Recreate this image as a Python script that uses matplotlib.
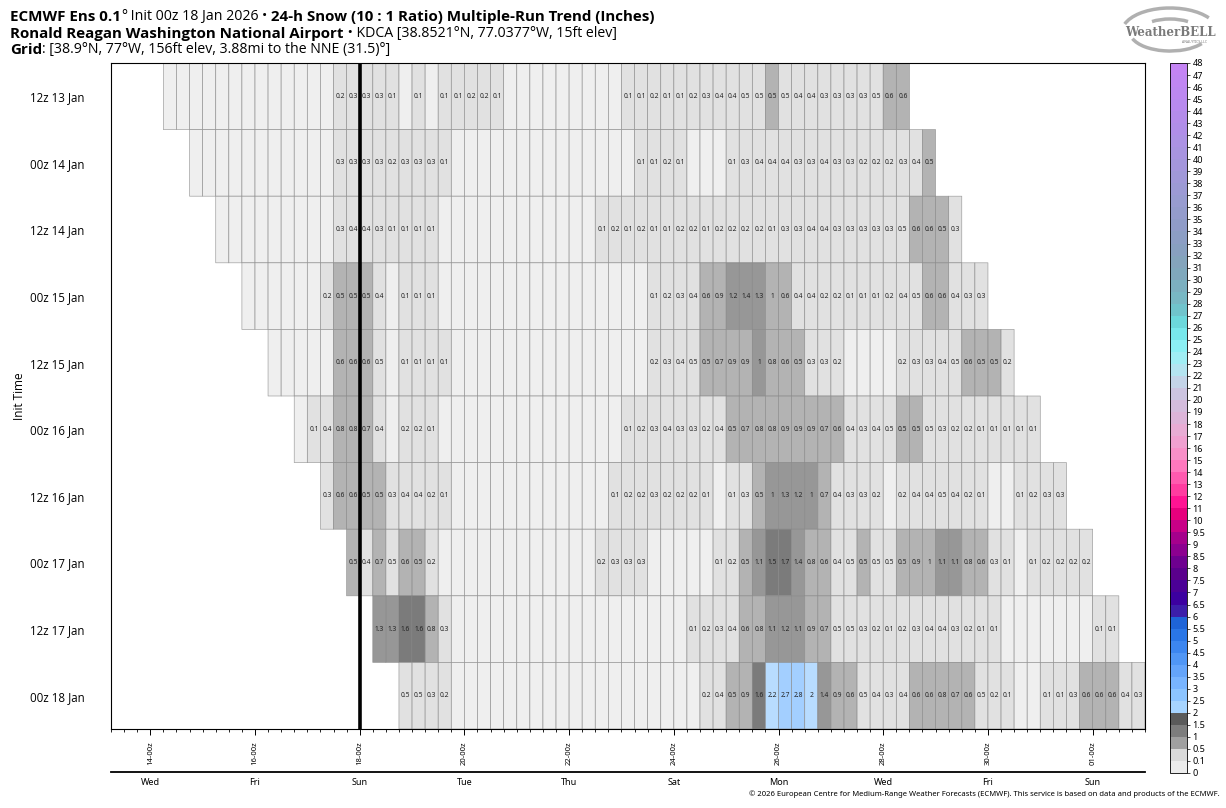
import numpy as np
import matplotlib
matplotlib.use('Agg')
import matplotlib.pyplot as plt
from matplotlib.colors import ListedColormap, BoundaryNorm
from matplotlib.patches import Arc
from matplotlib import font_manager
import matplotlib as mpl

plt.rcParams['font.family'] = ['Noto Sans', 'DejaVu Sans']

# runs, oldest first; each run is 6-hourly 24-h snow from +24h to +360h
init_labels = ['12z 13 Jan', '00z 14 Jan', '12z 14 Jan', '00z 15 Jan', '12z 15 Jan',
               '00z 16 Jan', '12z 16 Jan', '00z 17 Jan', '12z 17 Jan', '00z 18 Jan']

run_12z13 = [0] * 13 + [0.2, 0.3, 0.3, 0.3, 0.1, 0, 0.1, 0, 0.1, 0.1, 0.2, 0.2, 0.1] + [0] * 9 + \
    [0.1, 0.1, 0.2, 0.1, 0.1, 0.2, 0.3, 0.4, 0.4, 0.47, 0.47, 0.5, 0.47, 0.4, 0.4, 0.3, 0.3,
     0.3, 0.3, 0.47, 0.6, 0.6]
run_00z14 = [0] * 11 + [0.3, 0.3, 0.3, 0.3, 0.2, 0.3, 0.3, 0.3, 0.1] + [0] * 14 + \
    [0.1, 0.1, 0.2, 0.1] + [0] * 3 + \
    [0.1, 0.3, 0.4, 0.4, 0.4, 0.3, 0.3, 0.4, 0.3, 0.3, 0.2, 0.2, 0.2, 0.3, 0.4, 0.5]
run_12z14 = [0] * 9 + [0.3, 0.4, 0.4, 0.3, 0.1, 0.1, 0.1, 0.1] + [0] * 12 + \
    [0.1, 0.2, 0.1, 0.2, 0.1, 0.1, 0.2, 0.2, 0.1] + \
    [0.2, 0.2, 0.2, 0.2, 0.1, 0.3, 0.3, 0.4, 0.4, 0.3, 0.3, 0.3, 0.3, 0.3, 0.47, 0.6, 0.6, 0.5, 0.3]
run_00z15 = [0] * 6 + [0.2, 0.5, 0.5, 0.5, 0.4, 0, 0.1, 0.1, 0.1] + [0] * 16 + \
    [0.1, 0.2, 0.3, 0.4, 0.6, 0.9, 1.2, 1.4, 1.3, 0.96, 0.6, 0.4, 0.4, 0.2, 0.2, 0.1, 0.1, 0.1,
     0.2, 0.4, 0.47, 0.6, 0.6, 0.4, 0.3, 0.3]
run_12z15 = [0] * 5 + [0.6, 0.6, 0.6, 0.47, 0, 0.1, 0.1, 0.1, 0.1] + [0] * 15 + \
    [0.2, 0.3, 0.4, 0.47, 0.5, 0.7, 0.9, 0.9, 1.0, 0.8, 0.6, 0.5, 0.3, 0.3, 0.2] + [0] * 4 + \
    [0.2, 0.3, 0.3, 0.4, 0.47, 0.6, 0.5, 0.5, 0.2]
run_00z16 = [0, 0.1, 0.4, 0.8, 0.8, 0.7, 0.4, 0, 0.2, 0.2, 0.1] + [0] * 14 + \
    [0.1, 0.2, 0.3, 0.4, 0.3, 0.3, 0.2, 0.4, 0.5, 0.7, 0.8, 0.8, 0.9, 0.9, 0.9, 0.7, 0.6, 0.4,
     0.3, 0.4, 0.47, 0.5, 0.5, 0.47, 0.3, 0.2, 0.2, 0.1, 0.1, 0.1, 0.1, 0.1]
run_12z16 = [0.3, 0.6, 0.6, 0.5, 0.5, 0.3, 0.4, 0.4, 0.2, 0.1] + [0] * 12 + \
    [0.1, 0.2, 0.2, 0.3, 0.2, 0.2, 0.2, 0.1, 0,
     0.1, 0.3, 0.5, 1.0, 1.3, 1.2, 1.0, 0.7, 0.4, 0.3, 0.3, 0.2, 0,
     0.2, 0.4, 0.4, 0.47, 0.4, 0.2, 0.1, 0, 0, 0.1, 0.2, 0.3, 0.3]
run_00z17 = [0.5, 0.4, 0.7, 0.47, 0.6, 0.5, 0.2] + [0] * 12 + [0.2, 0.3, 0.3, 0.3] + [0] * 5 + \
    [0.1, 0.2, 0.5, 1.1, 1.5, 1.7, 1.4, 0.8, 0.6, 0.4, 0.47, 0.5, 0.47, 0.47, 0.5, 0.9, 0.96,
     1.1, 1.1, 0.8, 0.6, 0.3, 0.1, 0, 0.1, 0.2, 0.2, 0.2, 0.2]
run_12z17 = [1.3, 1.3, 1.6, 1.6, 0.8, 0.3] + [0] * 18 + \
    [0.1, 0.2, 0.3, 0.4, 0.6, 0.8, 1.1, 1.2, 1.1, 0.9, 0.7, 0.47, 0.47, 0.3, 0.2, 0.1, 0.2, 0.3,
     0.4, 0.4, 0.3, 0.2, 0.1, 0.1] + [0] * 7 + [0.1, 0.1]
run_00z18 = [0.47, 0.47, 0.3, 0.2] + [0] * 19 + \
    [0.2, 0.4, 0.5, 0.9, 1.6, 2.2, 2.7, 2.8, 2.0, 1.4, 0.9, 0.6, 0.47, 0.4, 0.3, 0.4, 0.6, 0.6,
     0.8, 0.7, 0.6, 0.47, 0.2, 0.1, 0, 0, 0.1, 0.1, 0.3, 0.6, 0.6, 0.6, 0.4, 0.3]

runs = [run_12z13, run_00z14, run_12z14, run_00z15, run_12z15,
        run_00z16, run_12z16, run_00z17, run_12z17, run_00z18]

tick_labels = ['14-00z', '16-00z', '18-00z', '20-00z', '22-00z', '24-00z',
               '26-00z', '28-00z', '30-00z', '01-00z']
day_labels = ['Wed', 'Fri', 'Sun', 'Tue', 'Thu', 'Sat', 'Mon', 'Wed', 'Fri', 'Sun']

levels = [0, 0.1] + [0.5 * i for i in range(1, 21)] + list(range(11, 49))
level_colors = [
    '#ececec', '#dadada', '#a0a0a0', '#7d7d7d', '#5a5a5a',
    '#a6d4ff', '#8cc4ff', '#78b4ff', '#64a4fa', '#5096f5', '#3c86f0', '#2a76e6', '#1e64d8',
    '#3c1eaa', '#3c00a0', '#4b0096', '#5a008c', '#6e0090', '#8c0090', '#a5008c', '#c80087',
    '#e6007d', '#ff1493', '#ff3ca0', '#ff5aaf', '#ff78be', '#f890c8', '#f0a0d0', '#e8acd4',
    '#dcb4d8', '#d4bcdc', '#ccc4e0', '#c4d4e8', '#b4e4f0', '#a0eef4', '#8cf0f4', '#78e8ec',
    '#6cd8dc', '#70c4cc', '#78b8c4', '#7cb0c0', '#80a8bc', '#84a4bc', '#88a0c0', '#8c9ec4',
    '#909cc8', '#949ccc', '#989cd0', '#9c9ad4', '#a098d8', '#a496dc', '#a894e0', '#ac92e4',
    '#b08ee8', '#b48cea', '#b88aee', '#bc88f0', '#c086f2', '#c484f4']
cmap = ListedColormap(level_colors)
norm = BoundaryNorm(levels, cmap.N)

# shared 6-hourly column grid; column k ends at 14 Jan 12z + 6h*k (hours since 13 Jan 00z)
n_cols = 75
grid = np.full((len(runs), n_cols), np.nan)
for r, vals in enumerate(runs):
    grid[r, 2 * r:2 * r + len(vals)] = vals
x_edges = 30 + 6 * np.arange(n_cols + 1)
y_edges = np.arange(len(runs) + 1) - 0.5


def bold_family():
    # first family whose bold face really exists
    for fam in ['Open Sans', 'Noto Sans', 'Lato', 'DejaVu Sans']:
        try:
            path = font_manager.findfont(font_manager.FontProperties(family=fam, weight='bold'),
                                         fallback_to_default=False)
        except Exception:
            continue
        if 'bold' in path.lower():
            return fam
    return 'DejaVu Sans'


title_font = bold_family()

W, H = 1226, 808
fig = plt.figure(figsize=(W / 100, H / 100), dpi=100)
ax = fig.add_axes([111 / W, 1 - 729 / H, 1034 / W, 666 / H])

ax.pcolor(x_edges, y_edges, np.ma.masked_invalid(grid), cmap=cmap, norm=norm, alpha=0.8,
          edgecolors='#8c8c8c', linewidth=0.5)

for r in range(len(runs)):
    for k in range(n_cols):
        v = grid[r, k]
        if np.isnan(v) or v < 0.05:
            continue
        ax.text(x_edges[k] + 3, r, f'{round(v, 1):g}', ha='center', va='center',
                fontsize=4.8, color='#222222')

ax.axvline(120, color='black', lw=2.6, zorder=5)

ax.set_xlim(6, 480)
ax.set_ylim(len(runs) - 0.5, -0.5)
tick_hours = [24 + 48 * i for i in range(len(tick_labels))]
ax.set_xticks(tick_hours)
ax.set_xticklabels(tick_labels, rotation=90, fontsize=5.5)
ax.set_xticks(np.arange(6, 481, 6), minor=True)
ax.tick_params(axis='x', which='major', length=4, width=0.7, pad=5)
ax.tick_params(axis='x', which='minor', length=2.5, width=0.6)
ax.set_yticks(range(len(runs)))
ax.set_yticklabels(init_labels, fontsize=8.3, family=title_font)
ax.tick_params(axis='y', length=0, pad=19)
ax.set_ylabel('Init Time', fontsize=8.5, family=title_font)
ax.yaxis.set_label_coords(-0.082, 0.5)

# day-of-week strip under the axis
ax2 = fig.add_axes([111 / W, 1 - 772 / H, 1034 / W, 0.0001])
ax2.set_xlim(6, 480)
for s in ['top', 'left', 'right']:
    ax2.spines[s].set_visible(False)
ax2.spines['bottom'].set_linewidth(1.3)
ax2.set_yticks([])
ax2.set_xticks(tick_hours)
ax2.set_xticklabels(day_labels, fontsize=6.5)
ax2.tick_params(axis='x', length=0, pad=4)

# colorbar
cax = fig.add_axes([1170 / W, 1 - 773 / H, 17 / W, 710 / H])
cb = mpl.colorbar.ColorbarBase(cax, cmap=cmap, norm=norm, boundaries=levels, ticks=levels,
                               spacing='uniform')
cb.ax.set_yticklabels([f'{v:g}' for v in levels], fontsize=6.5)
cb.ax.tick_params(length=2, width=0.5, pad=2)
cb.outline.set_linewidth(0.6)


def rich_line(x, y, parts):
    s0, w0 = parts[0]
    t = fig.text(x, y, s0, fontsize=10.9 if w0 == 'bold' else 10.2, fontweight=w0,
                 va='baseline', family=title_font)
    for s, w in parts[1:]:
        t = ax.annotate(s, xy=(1, 0), xycoords=t, va='bottom', ha='left', family=title_font,
                        fontsize=10.9 if w == 'bold' else 10.2, fontweight=w,
                        annotation_clip=False)


rich_line(10 / W, 1 - 21 / H, [('ECMWF Ens 0.1', 'bold'), ('°', 'normal'),
                               (' Init 00z 18 Jan 2026 ', 'normal'), ('•', 'normal'),
                               (' 24-h Snow (10 : 1 Ratio) Multiple-Run Trend (Inches)', 'bold')])
rich_line(10 / W, 1 - 38 / H, [('Ronald Reagan Washington National Airport', 'bold'),
                               (' • KDCA [38.8521°N, 77.0377°W, 15ft elev]', 'normal')])
rich_line(10 / W, 1 - 54 / H, [('Grid', 'bold'),
                               (': [38.9°N, 77°W, 156ft elev, 3.88mi to the NNE (31.5)°]', 'normal')])

# logo
lax = fig.add_axes([1115 / W, 1 - 60 / H, 110 / W, 56 / H])
lax.set_xlim(0, 110)
lax.set_ylim(0, 56)
lax.axis('off')
for w_, h_, a1, a2 in [(96, 48, 20, 170), (80, 38, 190, 340), (60, 26, 30, 150)]:
    lax.add_patch(Arc((55, 28), w_, h_, theta1=a1, theta2=a2, color='#b0b0b0', lw=2.5))
lax.text(55, 28, 'WeatherBELL', ha='center', va='center', fontsize=8.5, color='#7a7a7a',
         family='DejaVu Serif', fontweight='bold')
lax.text(80, 18, 'ANALYTICS LLC', ha='center', va='center', fontsize=2.5, color='#7a7a7a')

fig.text(1220 / W, 1 - 794 / H,
         '© 2026 European Centre for Medium-Range Weather Forecasts (ECMWF). '
         'This service is based on data and products of the ECMWF.',
         ha='right', va='center', fontsize=5.5)

fig.savefig('out.png', dpi=100)
